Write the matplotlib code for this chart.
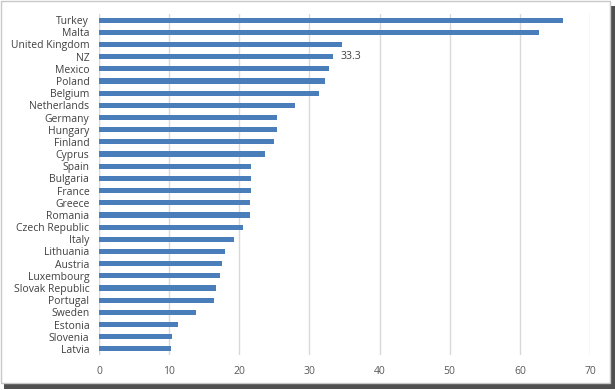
import matplotlib.pyplot as plt
from matplotlib.patches import Rectangle

countries = ['Turkey', 'Malta', 'United Kingdom', 'NZ', 'Mexico', 'Poland', 'Belgium',
             'Netherlands', 'Germany', 'Hungary', 'Finland', 'Cyprus', 'Spain', 'Bulgaria',
             'France', 'Greece', 'Romania', 'Czech Republic', 'Italy', 'Lithuania', 'Austria',
             'Luxembourg', 'Slovak Republic', 'Portugal', 'Sweden', 'Estonia', 'Slovenia', 'Latvia']
values = [66.1, 62.8, 34.7, 33.3, 32.8, 32.2, 31.3, 27.9, 25.4, 25.4, 24.9, 23.7, 21.7, 21.6,
          21.6, 21.5, 21.5, 20.5, 19.3, 18.0, 17.5, 17.3, 16.7, 16.4, 13.9, 11.3, 10.4, 10.3]
x_ticks = [0, 10, 20, 30, 40, 50, 60, 70]

plt.rcParams['font.family'] = ['Open Sans', 'DejaVu Sans']

fig = plt.figure(figsize=(6.15, 3.9), dpi=100)
# screenshot frame with shadow
fig.patches.append(Rectangle((4 / 615, 1 / 390), 611 / 615, 383 / 390, transform=fig.transFigure,
                             facecolor='#505050', edgecolor='none', zorder=-2))
fig.patches.append(Rectangle((0.001, 7 / 390), 609 / 615, 382 / 390, transform=fig.transFigure,
                             facecolor='white', edgecolor='#c8c8c8', linewidth=1, zorder=-1))

ax = fig.add_axes([99 / 615, 1 - 355 / 390, (590 - 99) / 615, (355 - 14) / 390])
ax.set_facecolor('none')
pos = list(range(len(countries)))
ax.barh(pos, values, height=0.42, color='#4A7EBB', zorder=3)
ax.set_ylim(len(countries) - 0.5, -0.5)
ax.set_xlim(0, 70)
ax.set_xticks(x_ticks)
ax.set_yticks(pos)
ax.set_yticklabels(countries, fontsize=7.5, color='#404040')
ax.tick_params(axis='x', labelsize=7.5, colors='#595959', length=0, pad=8)
ax.tick_params(axis='y', length=0, pad=7)
ax.grid(axis='x', color='#d9d9d9', linewidth=1, zorder=0)
for s in ax.spines.values():
    s.set_visible(False)
ax.axvline(0, color='#d9d9d9', linewidth=1, zorder=1)

nz = countries.index('NZ')
ax.annotate(f'{values[nz]:.1f}', (values[nz], nz), xytext=(6, 0), textcoords='offset points',
            va='center', ha='left', fontsize=7.5, color='#404040')

fig.savefig('out.png', dpi=100)
